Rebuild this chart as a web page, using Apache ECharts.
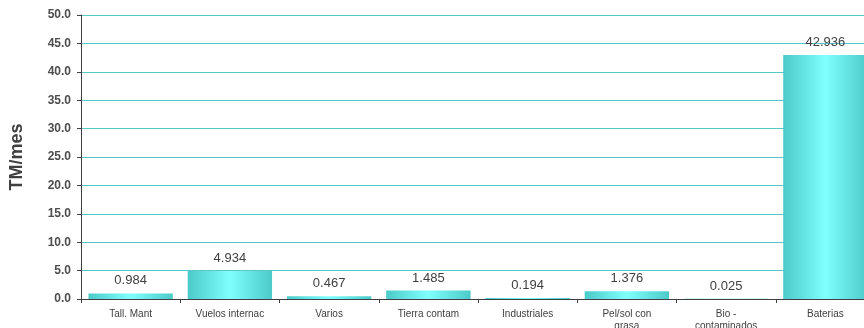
<!DOCTYPE html>
<html>
<head>
<meta charset="utf-8">
<script src="https://cdn.jsdelivr.net/npm/echarts@6/dist/echarts.min.js"></script>
<style>
  html, body { margin: 0; padding: 0; background: #fff; }
  #chart { width: 864px; height: 328px; }
</style>
</head>
<body>
<div id="chart"></div>
<script>
const categories = [
  "Tall. Mant",
  "Vuelos internac",
  "Varios",
  "Tierra contam",
  "Industriales",
  "Pel/sol con\ngrasa",
  "Bio -\ncontaminados",
  "Baterias",
];
const values = [0.984, 4.934, 0.467, 1.485, 0.194, 1.376, 0.025, 42.936];

const chart = echarts.init(document.getElementById("chart"));

// degradado horizontal de las barras
const barColor = new echarts.graphic.LinearGradient(0, 0, 1, 0, [
  { offset: 0, color: "#4ccaca" },
  { offset: 0.5, color: "#80ffff" },
  { offset: 1, color: "#4ccaca" },
]);

chart.setOption({
  animation: false,
  grid: {
    left: 81,
    top: 15,
    width: 794,
    height: 284,
    containLabel: false,
    outerBoundsMode: "none",
  },
  xAxis: {
    type: "category",
    data: categories,
    axisLine: { lineStyle: { color: "#404040", width: 1 } },
    axisTick: { show: true, length: 4, lineStyle: { color: "#404040" } },
    axisLabel: {
      interval: 0,
      margin: 9,
      fontFamily: "Liberation Sans",
      fontSize: 10,
      color: "#404040",
      lineHeight: 12,
    },
  },
  yAxis: {
    type: "value",
    min: 0,
    max: 50,
    interval: 5,
    name: "TM/mes",
    nameLocation: "middle",
    nameGap: 55,
    nameTextStyle: {
      fontFamily: "Liberation Sans",
      fontWeight: "bold",
      fontSize: 18,
      color: "#404040",
    },
    axisLine: { show: true, lineStyle: { color: "#404040", width: 1 } },
    axisTick: { show: true, length: 4, lineStyle: { color: "#404040" } },
    axisLabel: {
      margin: 10,
      fontFamily: "Liberation Sans",
      fontWeight: "bold",
      fontSize: 12,
      color: "#4d4d4d",
      formatter: (v) => v.toFixed(1),
    },
    splitLine: { show: true, lineStyle: { color: ["#55c8c8"], width: 1 } },
  },
  series: [
    {
      type: "bar",
      data: values,
      barCategoryGap: "15%",
      itemStyle: { color: barColor },
      label: {
        show: true,
        position: "top",
        distance: 6,
        fontFamily: "Liberation Sans",
        fontSize: 13,
        color: "#404040",
        formatter: (p) => p.value.toFixed(3),
      },
    },
  ],
});
</script>
</body>
</html>
